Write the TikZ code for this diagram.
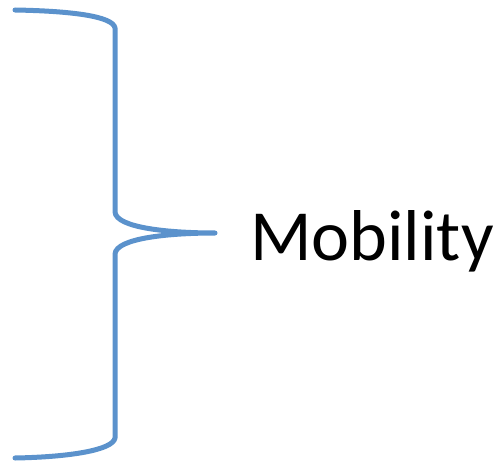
\documentclass[tikz,border=0pt]{standalone}
\usepackage{fontspec}
\setmainfont{Carlito}
\definecolor{bracecol}{RGB}{91,146,204}
\begin{document}
\begin{tikzpicture}[x=1pt,y=-1pt,
  bracestyle/.style={draw=bracecol,line width=5pt,line cap=round,line join=round},
  labelstyle/.style={inner sep=0pt,anchor=base west,font=\fontsize{72}{86}\selectfont}]
\useasboundingbox (0,0) rectangle (497,462);
\coordinate (top) at (15,10);
\coordinate (tip) at (215,233);
\coordinate (bot) at (15,458);
\draw[bracestyle] (top) .. controls (70,11) and (113,16) .. (115,28)
  -- (115,212) .. controls (116,228) and (170,233) .. (tip)
  .. controls (170,233) and (116,238) .. (115,254)
  -- (115,438) .. controls (113,450) and (70,457) .. (bot);
\node[labelstyle] (label) at (250,260) {Mobility};
\end{tikzpicture}
\end{document}
